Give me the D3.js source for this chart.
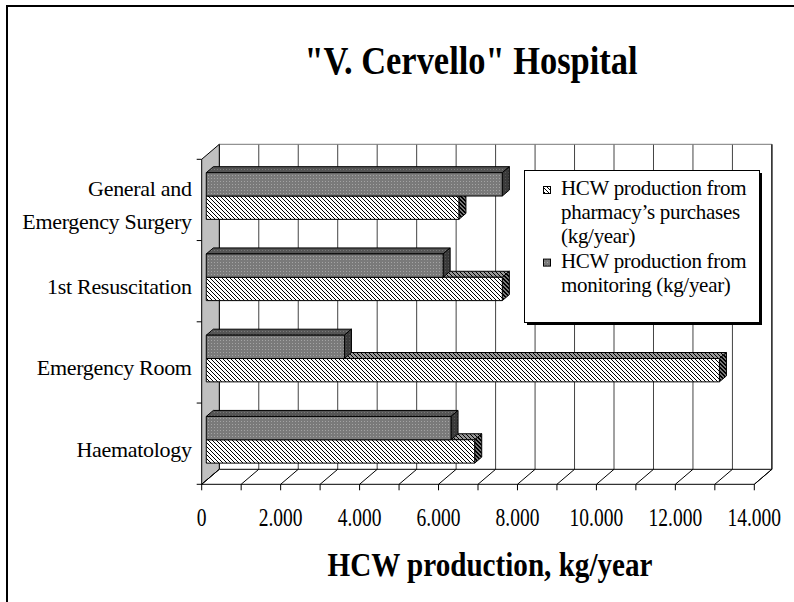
<!DOCTYPE html>
<html>
<head>
<meta charset="utf-8">
<script src="https://cdn.jsdelivr.net/npm/d3@7"></script>
<style>
  body { margin: 0; background: #fff; }
  svg { display: block; font-family: "Liberation Serif", "Times New Roman", serif; }
</style>
</head>
<body>
<div id="chart"></div>
<script>
// data
const categories = ["General and Emergency Surgery", "1st Resuscitation", "Emergency Room", "Haematology"];
const catLines = [["General and", "Emergency Surgery"], ["1st Resuscitation"], ["Emergency Room"], ["Haematology"]];
const monitoring = [7500, 6000, 3500, 6200];   // kg/year, dark dotted bars
const pharmacy = [6400, 7500, 13000, 6800];    // kg/year, hatched bars
const xTicks = d3.range(0, 14001, 1000);
const xLabels = ["0", "2.000", "4.000", "6.000", "8.000", "10.000", "12.000", "14.000"];
const legendLines = [
  ["HCW production from", "pharmacy\u2019s purchases", "(kg/year)"],
  ["HCW production from", "monitoring (kg/year)"]
];

const width = 794, height = 602;

// plot frame (front plane) and depth vector
const pLeft = 201.7, pRight = 754.3, pTop = 159.3, pBottom = 484.3;
const DX = 17.6, DY = 15;
const dFront = 0.26, dBack = 0.66;   // bar depth slice

const x = d3.scaleLinear().domain([0, 14000]).range([pLeft, pRight]);
const y = d3.scaleBand().domain(categories).range([pTop, pBottom]).padding(0);
const sub = d3.scaleBand().domain(["monitoring", "pharmacy"])
  .range([0, y.bandwidth()]).paddingInner(0).paddingOuter(0.74);

const proj = (v, yy, d) => [x(v) + d * DX, yy - d * DY];
const pts = arr => arr.map(p => p.join(",")).join(" ");

const svg = d3.select("#chart").append("svg")
  .attr("width", width).attr("height", height);

// patterns
const defs = svg.append("defs");
function dotPattern(id, bg, dot) {
  const p = defs.append("pattern").attr("id", id).attr("patternUnits", "userSpaceOnUse")
    .attr("width", 3).attr("height", 3);
  p.append("rect").attr("width", 3).attr("height", 3).attr("fill", bg);
  p.append("rect").attr("x", 1).attr("y", 1).attr("width", 1).attr("height", 1).attr("fill", dot);
}
function hatchPattern(id, bg, fg, wide) {
  const p = defs.append("pattern").attr("id", id).attr("patternUnits", "userSpaceOnUse")
    .attr("width", 4).attr("height", 4);
  p.append("rect").attr("width", 4).attr("height", 4).attr("fill", bg);
  const cells = wide ? [[0,0],[1,1],[2,2],[3,3],[1,0],[2,1],[3,2],[0,3]] : [[0,0],[1,1],[2,2],[3,3]];
  cells.forEach(([i, j]) => {
    p.append("rect").attr("x", i).attr("y", j).attr("width", 1).attr("height", 1).attr("fill", fg);
  });
}
dotPattern("monFront", "#7a7a7a", "#a4a4a4");
dotPattern("monTop", "#555", "#787878");
dotPattern("monSide", "#3a3a3a", "#555");
hatchPattern("phFront", "#fff", "#000", false);
hatchPattern("phTop", "#999", "#000", false);
hatchPattern("phSide", "#777", "#000", true);

// outer frame
svg.append("rect").attr("x", 7).attr("y", 6).attr("width", width + 10).attr("height", height + 10)
  .attr("fill", "#fff").attr("stroke", "#000").attr("stroke-width", 2);

// back wall
svg.append("polygon")
  .attr("points", pts([proj(0, pTop, 1), proj(14000, pTop, 1), proj(14000, pBottom, 1), proj(0, pBottom, 1)]))
  .attr("fill", "#fff").attr("stroke", "none");
svg.append("g").selectAll("line").data(xTicks).join("line")
  .attr("x1", d => proj(d, pTop, 1)[0]).attr("y1", d => proj(d, pTop, 1)[1])
  .attr("x2", d => proj(d, pBottom, 1)[0]).attr("y2", d => proj(d, pBottom, 1)[1])
  .attr("stroke", "#444").attr("stroke-width", 1);
svg.append("line")
  .attr("x1", proj(0, pTop, 1)[0]).attr("y1", proj(0, pTop, 1)[1])
  .attr("x2", proj(14000, pTop, 1)[0]).attr("y2", proj(14000, pTop, 1)[1])
  .attr("stroke", "#777");
svg.append("line")
  .attr("x1", proj(14000, pTop, 1)[0]).attr("y1", proj(14000, pTop, 1)[1])
  .attr("x2", proj(14000, pBottom, 1)[0]).attr("y2", proj(14000, pBottom, 1)[1])
  .attr("stroke", "#000");

// side wall
svg.append("polygon")
  .attr("points", pts([proj(0, pTop, 0), proj(0, pTop, 1), proj(0, pBottom, 1), proj(0, pBottom, 0)]))
  .attr("fill", "#c0c0c0").attr("stroke", "#000").attr("stroke-width", 1);

// floor
svg.append("polygon")
  .attr("points", pts([proj(0, pBottom, 0), proj(14000, pBottom, 0), proj(14000, pBottom, 1), proj(0, pBottom, 1)]))
  .attr("fill", "#fff").attr("stroke", "#000").attr("stroke-width", 1);
svg.append("g").selectAll("line").data(xTicks).join("line")
  .attr("x1", d => proj(d, pBottom, 0)[0]).attr("y1", d => proj(d, pBottom, 0)[1])
  .attr("x2", d => proj(d, pBottom, 1)[0]).attr("y2", d => proj(d, pBottom, 1)[1])
  .attr("stroke", "#000");

// x ticks and labels (condensed like the original)
svg.append("g").selectAll("line").data(xTicks).join("line")
  .attr("x1", d => x(d)).attr("x2", d => x(d))
  .attr("y1", pBottom).attr("y2", pBottom + 6)
  .attr("stroke", "#000");
svg.append("g").selectAll("text").data(xLabels).join("text")
  .attr("transform", (d, i) => `translate(${x(i * 2000)},${pBottom + 42}) scale(0.78,1)`)
  .attr("text-anchor", "middle")
  .attr("font-size", 25)
  .text(d => d);

// category ticks and labels
svg.append("g").selectAll("line").data(d3.range(categories.length + 1)).join("line")
  .attr("x1", pLeft - 5).attr("x2", pLeft)
  .attr("y1", i => pTop + i * y.step()).attr("y2", i => pTop + i * y.step())
  .attr("stroke", "#000");
const catG = svg.append("g").selectAll("text").data(categories).join("text")
  .attr("text-anchor", "end").attr("font-size", 22).attr("letter-spacing", -0.3)
  .attr("x", pLeft - 10);
catG.each(function(d, i) {
  const lines = catLines[i];
  const cy = y(d) + y.bandwidth() / 2 + 6;
  d3.select(this).selectAll("tspan").data(lines).join("tspan")
    .attr("x", pLeft - 10)
    .attr("y", (l, j) => cy + 7 + (j - (lines.length - 1) / 2) * 33)
    .text(l => l);
});

// bars
function bar(g, v, yt, h, front, topF, side) {
  const f = dFront, b = dBack;
  g.append("polygon")
    .attr("points", pts([proj(0, yt, f), proj(v, yt, f), proj(v, yt, b), proj(0, yt, b)]))
    .attr("fill", `url(#${topF})`).attr("stroke", "#000").attr("stroke-width", 1);
  g.append("polygon")
    .attr("points", pts([proj(v, yt, f), proj(v, yt, b), proj(v, yt + h, b), proj(v, yt + h, f)]))
    .attr("fill", `url(#${side})`).attr("stroke", "#000").attr("stroke-width", 1);
  g.append("polygon")
    .attr("points", pts([proj(0, yt, f), proj(v, yt, f), proj(v, yt + h, f), proj(0, yt + h, f)]))
    .attr("fill", `url(#${front})`).attr("stroke", "#000").attr("stroke-width", 1);
}
const barsG = svg.append("g");
categories.forEach((c, i) => {
  const g = barsG.append("g");
  bar(g, pharmacy[i], y(c) + sub("pharmacy"), sub.bandwidth(), "phFront", "phTop", "phSide");
  bar(g, monitoring[i], y(c) + sub("monitoring"), sub.bandwidth(), "monFront", "monTop", "monSide");
});

// legend
const lg = svg.append("g");
lg.append("rect").attr("x", 527).attr("y", 173).attr("width", 235).attr("height", 152).attr("fill", "#000");
lg.append("rect").attr("x", 524.5).attr("y", 170.5).attr("width", 235).attr("height", 152)
  .attr("fill", "#fff").attr("stroke", "#000");
const swatches = ["phFront", "monFront"];
let lineY = 195;
legendLines.forEach((lines, k) => {
  lg.append("rect").attr("x", 543.5).attr("y", lineY - 8.5).attr("width", 7).attr("height", 7)
    .attr("fill", `url(#${swatches[k]})`).attr("stroke", "#000");
  lines.forEach(l => {
    lg.append("text").attr("x", 561).attr("y", lineY)
      .attr("font-size", 21).attr("letter-spacing", -0.3).text(l);
    lineY += 24.2;
  });
});

// titles (condensed bold, as in the original)
svg.append("text").attr("x", 471).attr("y", 74)
  .attr("text-anchor", "middle").attr("font-weight", "bold")
  .attr("font-size", 41).attr("textLength", 333).attr("lengthAdjust", "spacingAndGlyphs")
  .text("\"V. Cervello\" Hospital");
svg.append("text").attr("x", 490).attr("y", 576)
  .attr("text-anchor", "middle").attr("font-weight", "bold")
  .attr("font-size", 33).attr("textLength", 325).attr("lengthAdjust", "spacingAndGlyphs")
  .text("HCW production, kg/year");
</script>
</body>
</html>
